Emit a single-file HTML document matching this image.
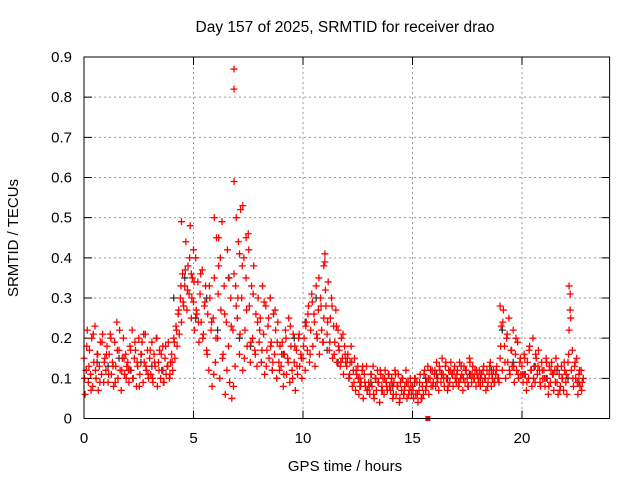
<!DOCTYPE html>
<html><head><meta charset="utf-8"><style>
html,body{margin:0;padding:0;background:#fff;}
svg{display:block;font-family:"Liberation Sans",Arial,sans-serif;}
</style></head><body>
<svg id="chart" width="640" height="480" viewBox="0 0 640 480" xmlns="http://www.w3.org/2000/svg">
<rect width="640" height="480" fill="#fff"/>
<text x="345" y="32" font-size="15.5" text-anchor="middle" fill="#000">Day 157 of 2025, SRMTID for receiver drao</text>
<text x="345" y="471" font-size="15" text-anchor="middle" fill="#000">GPS time / hours</text>
<text x="0" y="0" font-size="15" text-anchor="middle" fill="#000" transform="translate(18,238) rotate(-90)">SRMTID / TECUs</text>
<g id="grid"></g>
<g id="axes"></g>
<g id="series-black"></g>
<g id="series-red"></g>
<rect x="84" y="57" width="525.6" height="361.5" fill="none" stroke="#000" stroke-width="1"/>
</svg>
<script>
// Data (values in hundredths of TECU), red series sampled every 0.05 h from 0 h
const redStep = 0.05;
const redValues = [
15,6,12,22,9,17,11,20,8,14,23,10,16,7,13,19,11,21,9,15,
12,18,9,16,21,11,14,8,19,13,24,10,17,12,7,15,20,11,16,13,
14,9,18,12,22,10,15,17,8,13,20,11,16,19,9,14,21,12,17,10,
15,11,19,9,16,13,20,8,14,17,10,12,18,9,15,11,13,19,10,14,
16,12,20,15,23,18,26,21,30,24,36,28,33,44,27,38,31,48,25,35,
29,22,40,26,34,19,31,24,37,21,28,33,17,26,12,30,22,8,25,35,
14,45,20,38,10,27,49,16,33,6,24,42,18,9,30,5,22,36,13,28,
25,44,16,52,30,12,40,22,35,18,46,28,14,33,20,38,17,26,13,30,
19,25,14,33,21,11,28,17,23,15,30,19,12,26,16,22,10,24,14,18,
13,19,8,16,22,11,15,25,9,18,12,21,14,7,17,11,20,13,16,10,
15,20,12,24,17,28,14,22,31,18,26,13,33,20,27,16,30,22,19,25,
39,28,21,34,17,25,30,15,23,19,27,14,22,17,13,20,15,11,18,14,
13,16,10,14,18,8,12,15,7,11,13,6,10,9,12,5,11,8,13,7,
9,6,11,8,13,5,10,7,12,9,4,11,8,10,6,12,9,7,11,8,
7,10,5,9,12,6,8,11,4,9,7,10,6,8,12,5,9,7,10,6,
8,5,10,6,9,4,7,11,5,8,6,12,7,9,13,6,10,8,12,9,
11,8,14,10,7,12,9,15,11,8,13,10,7,12,9,14,11,8,12,10,
9,12,8,14,10,11,7,13,9,12,10,8,15,11,9,13,10,12,8,11,
10,12,8,11,9,13,10,7,12,9,11,14,8,10,12,9,11,13,10,9,
15,23,12,27,18,10,20,14,25,11,17,13,22,9,16,12,19,10,14,11,
13,9,16,11,7,14,10,18,12,8,20,13,9,15,11,17,12,8,14,10,
12,8,15,10,6,13,9,14,11,7,12,15,9,6,11,8,13,10,7,12,
9,6,14,22,31,12,17,8,13,10,15,6,11,8,12,9,10
];
// Second red series sampled every 0.1 h from 0.025 h
const red2Step = 0.1;
const red2Start = 0.025;
const red2Values = [
10,18,13,7,21,12,16,9,19,14,
16,11,20,13,9,17,22,12,15,10,
12,17,10,19,14,8,16,21,13,11,
17,10,14,20,12,16,9,18,13,11,
14,19,22,27,33,29,37,32,40,30,
34,27,24,36,20,29,16,33,24,11,
20,31,40,15,26,12,35,23,8,33,
30,21,38,15,27,42,19,31,16,24,
22,17,29,13,25,18,14,27,19,12,
16,11,20,14,23,10,18,13,21,15,
18,23,26,16,29,24,21,35,28,19,
32,24,19,28,16,23,18,14,21,16,
15,11,14,9,12,10,8,13,9,7,
8,11,6,10,9,12,7,10,8,11,
9,6,11,8,5,10,7,9,6,8,
7,10,6,9,5,11,8,10,12,8,
12,9,13,11,10,14,8,12,11,13,
11,9,13,10,12,8,14,11,10,12,
9,11,12,10,8,13,11,9,12,10,
18,24,14,21,12,17,13,20,11,15,
11,15,9,17,12,10,16,13,9,12,
10,14,8,12,11,9,13,7,10,14,
11,16,25,10,14,9,12,7
];
// Extra red outliers
const extraTimes  = [6.85,6.85,6.85,6.95,7.25,5.95,4.45,11.0,22.15,22.2,19.0,6.15,7.4,10.95,8.5,5.0,4.9,7.1];
const extraValues = [87,82,59,50,53,50,49,41,33,27,28,45,45,38,30,42,36,41];
// Black series sampled every 0.5 h from 0.1 h
const blackStep = 0.5;
const blackValues = [12,14,13,15,12,14,13,12,30,35,25,30,22,35,20,18,14,12,16,20,24,30,17,14,10,8,9,7,8,6,9,10,11,10,9,11,10,12,22,14,11,13,10,12,10,9];
const xTicks = [0,5,10,15,20];
const yTicks = [0,0.1,0.2,0.3,0.4,0.5,0.6,0.7,0.8,0.9];
const yTickLabels = ["0","0.1","0.2","0.3","0.4","0.5","0.6","0.7","0.8","0.9"];

const X0=84, X1=609.6, Y0=418.5, Y1=57;
const xs = h => X0 + h/24*(X1-X0);
const ys = v => Y0 - v/0.9*(Y0-Y1);
const NS="http://www.w3.org/2000/svg";
function mk(tag, parent, attrs){const e=document.createElementNS(NS,tag);for(const k in attrs)e.setAttribute(k,attrs[k]);parent.appendChild(e);return e;}

const grid=document.getElementById('grid'), axes=document.getElementById('axes');
yTicks.forEach((t,i)=>{
  const y=ys(t);
  if(i>0&&i<yTicks.length-1){const g=mk('line',grid,{x1:X0,x2:X1,y1:y,y2:y,stroke:'#999','stroke-dasharray':'2,3','stroke-width':1});
  
  }
  const a=mk('path',axes,{d:`M${X0} ${y}h8M${X1} ${y}h-8`,stroke:'#000','stroke-width':1});
  
  
  const l=mk('text',axes,{x:72,y:y+5,'font-size':15,'text-anchor':'end',fill:'#000'});
  l.textContent=yTickLabels[i];
  
  
});
xTicks.forEach(t=>{
  const x=xs(t);
  if(t>0){const g=mk('line',grid,{x1:x,x2:x,y1:Y1,y2:Y0,stroke:'#999','stroke-dasharray':'2,3','stroke-width':1});
  
  }
  const a=mk('path',axes,{d:`M${x} ${Y0}v-8M${x} ${Y1}v8`,stroke:'#000','stroke-width':1});
  
  
  const l=mk('text',axes,{x:x,y:443,'font-size':15,'text-anchor':'middle',fill:'#000'});
  l.textContent=String(t);
  
  
});
function plus(parent,h,v,color,name){
  const x=xs(h), y=ys(v/100);
  const p=mk('path',parent,{d:`M${x-3.5} ${y}h7M${x} ${y-3.5}v7`,stroke:color,'stroke-width':1.3});
  
  
}
const gb=document.getElementById('series-black'), gr=document.getElementById('series-red');
blackValues.forEach((v,i)=>plus(gb,i*blackStep+0.1,v,'#333','black-point'));
redValues.forEach((v,i)=>plus(gr,i*redStep,v,'#f00','red-point'));
red2Values.forEach((v,i)=>plus(gr,red2Start+i*red2Step,v,'#f00','red-point-b'));
extraTimes.forEach((t,i)=>plus(gr,t,extraValues[i],'#f00','red-outlier'));
const sq=mk('rect',gr,{x:xs(15.7)-2.5,y:ys(0)-2.5,width:5,height:5,fill:'#f00'});


</script>
</body></html>
